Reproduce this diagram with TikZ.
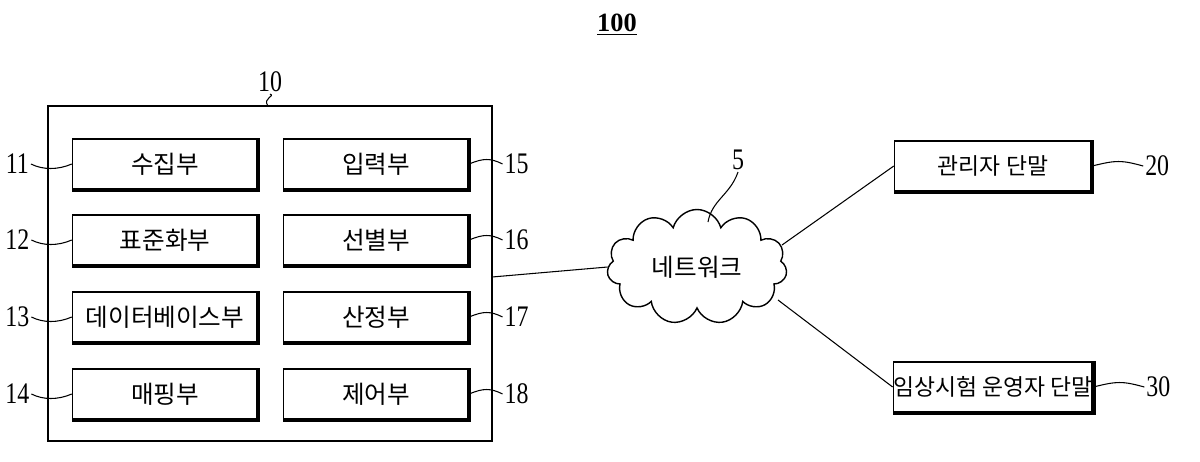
\documentclass[tikz,border=0pt]{standalone}
\usepackage{fontspec}
\setmainfont{Liberation Serif}
\newfontfamily\kr{Noto Sans CJK KR}
\usetikzlibrary{shapes.symbols}
\begin{document}
\begin{tikzpicture}[x=0.02cm,y=-0.02cm,
            unit/.style={draw,thick,minimum width=185*0.02cm,minimum height=50*0.02cm,
                font=\kr\fontsize{14}{14}\selectfont,inner sep=0pt},
            num/.style={font=\fontsize{17}{17}\selectfont\addfontfeature{FakeStretch=0.8},inner sep=1pt},
            lead/.style={semithick},
            every path/.style={line join=miter}]
            \useasboundingbox (0,0) rectangle (1200,461);
            \node[font=\bfseries\fontsize{15}{15}\selectfont] (sys) at (617,25) {\underline{100}};
            \draw[thick] (48,106) rectangle (492,441);
            \coordinate (top) at (268,106);
            \coordinate (outE) at (492,277);
            \node[num] (n10) at (270,82) {10};
            \draw[lead] (top) .. controls (262,98) and (276,96) .. (n10.south);
            % left column
            \node[unit] (u11) at (165,164) {수집부};
            \node[unit] (u12) at (165,240) {표준화부};
            \node[unit] (u13) at (165,317) {데이터베이스부};
            \node[unit] (u14) at (165,394) {매핑부};
            % right column
            \node[unit] (u15) at (376,164) {입력부};
            \node[unit] (u16) at (376,240) {선별부};
            \node[unit] (u17) at (376,317) {산정부};
            \node[unit] (u18) at (376,394) {제어부};
            \node[unit,minimum width=197*0.02cm,font=\kr\fontsize{13}{13}\selectfont] (t20) at (993,166) {관리자 단말};
            \node[unit,minimum width=197*0.02cm,font=\kr\fontsize{13}{13}\selectfont] (t30) at (993,387) {임상시험 운영자 단말};
            \foreach \b in {u11,u12,u13,u14,u15,u16,u17,u18,t20,t30}
                \draw[line width=2.4pt] (\b.north east) -- (\b.south east) -- (\b.south west);
            \foreach \b/\t in {u11/11,u12/12,u13/13,u14/14}{
                \node[num] (n\t) at ([xshift=-31pt]\b.west) {\t};
                \draw[lead] (n\t.east) .. controls +(12,6) and +(-14,6) .. (\b.west);
            }
            \foreach \b/\t in {u15/15,u16/16,u17/17,u18/18}{
                \node[num] (n\t) at ([xshift=27pt]\b.east) {\t};
                \draw[lead] (\b.east) .. controls +(14,-6) and +(-12,-6) .. (n\t.west);
            }
            \foreach \b/\t in {t20/20,t30/30}{
                \node[num] (n\t) at ([xshift=37pt]\b.east) {\t};
                \draw[lead] (\b.east) .. controls +(24,-6) and +(-22,-6) .. (n\t.west);
            }
            % network
            \node[cloud,draw,thick,cloud puffs=11,aspect=1.7,minimum width=180*0.02cm,
                minimum height=115*0.02cm,font=\kr\fontsize{14}{14}\selectfont] (net) at (697,267) {네트워크};
            \coordinate (netNE) at (782,245);
            \coordinate (netSE) at (778,300);
            \node[num] (n5) at (738,160) {5};
            \draw[lead] (n5.south) .. controls (730,195) and (712,200) .. (708,222);
            \draw[semithick] (outE) -- (net.west);
            \draw[semithick] (netNE) -- (t20.west);
            \draw[semithick] (netSE) -- (t30.west);
\end{tikzpicture}
\end{document}
